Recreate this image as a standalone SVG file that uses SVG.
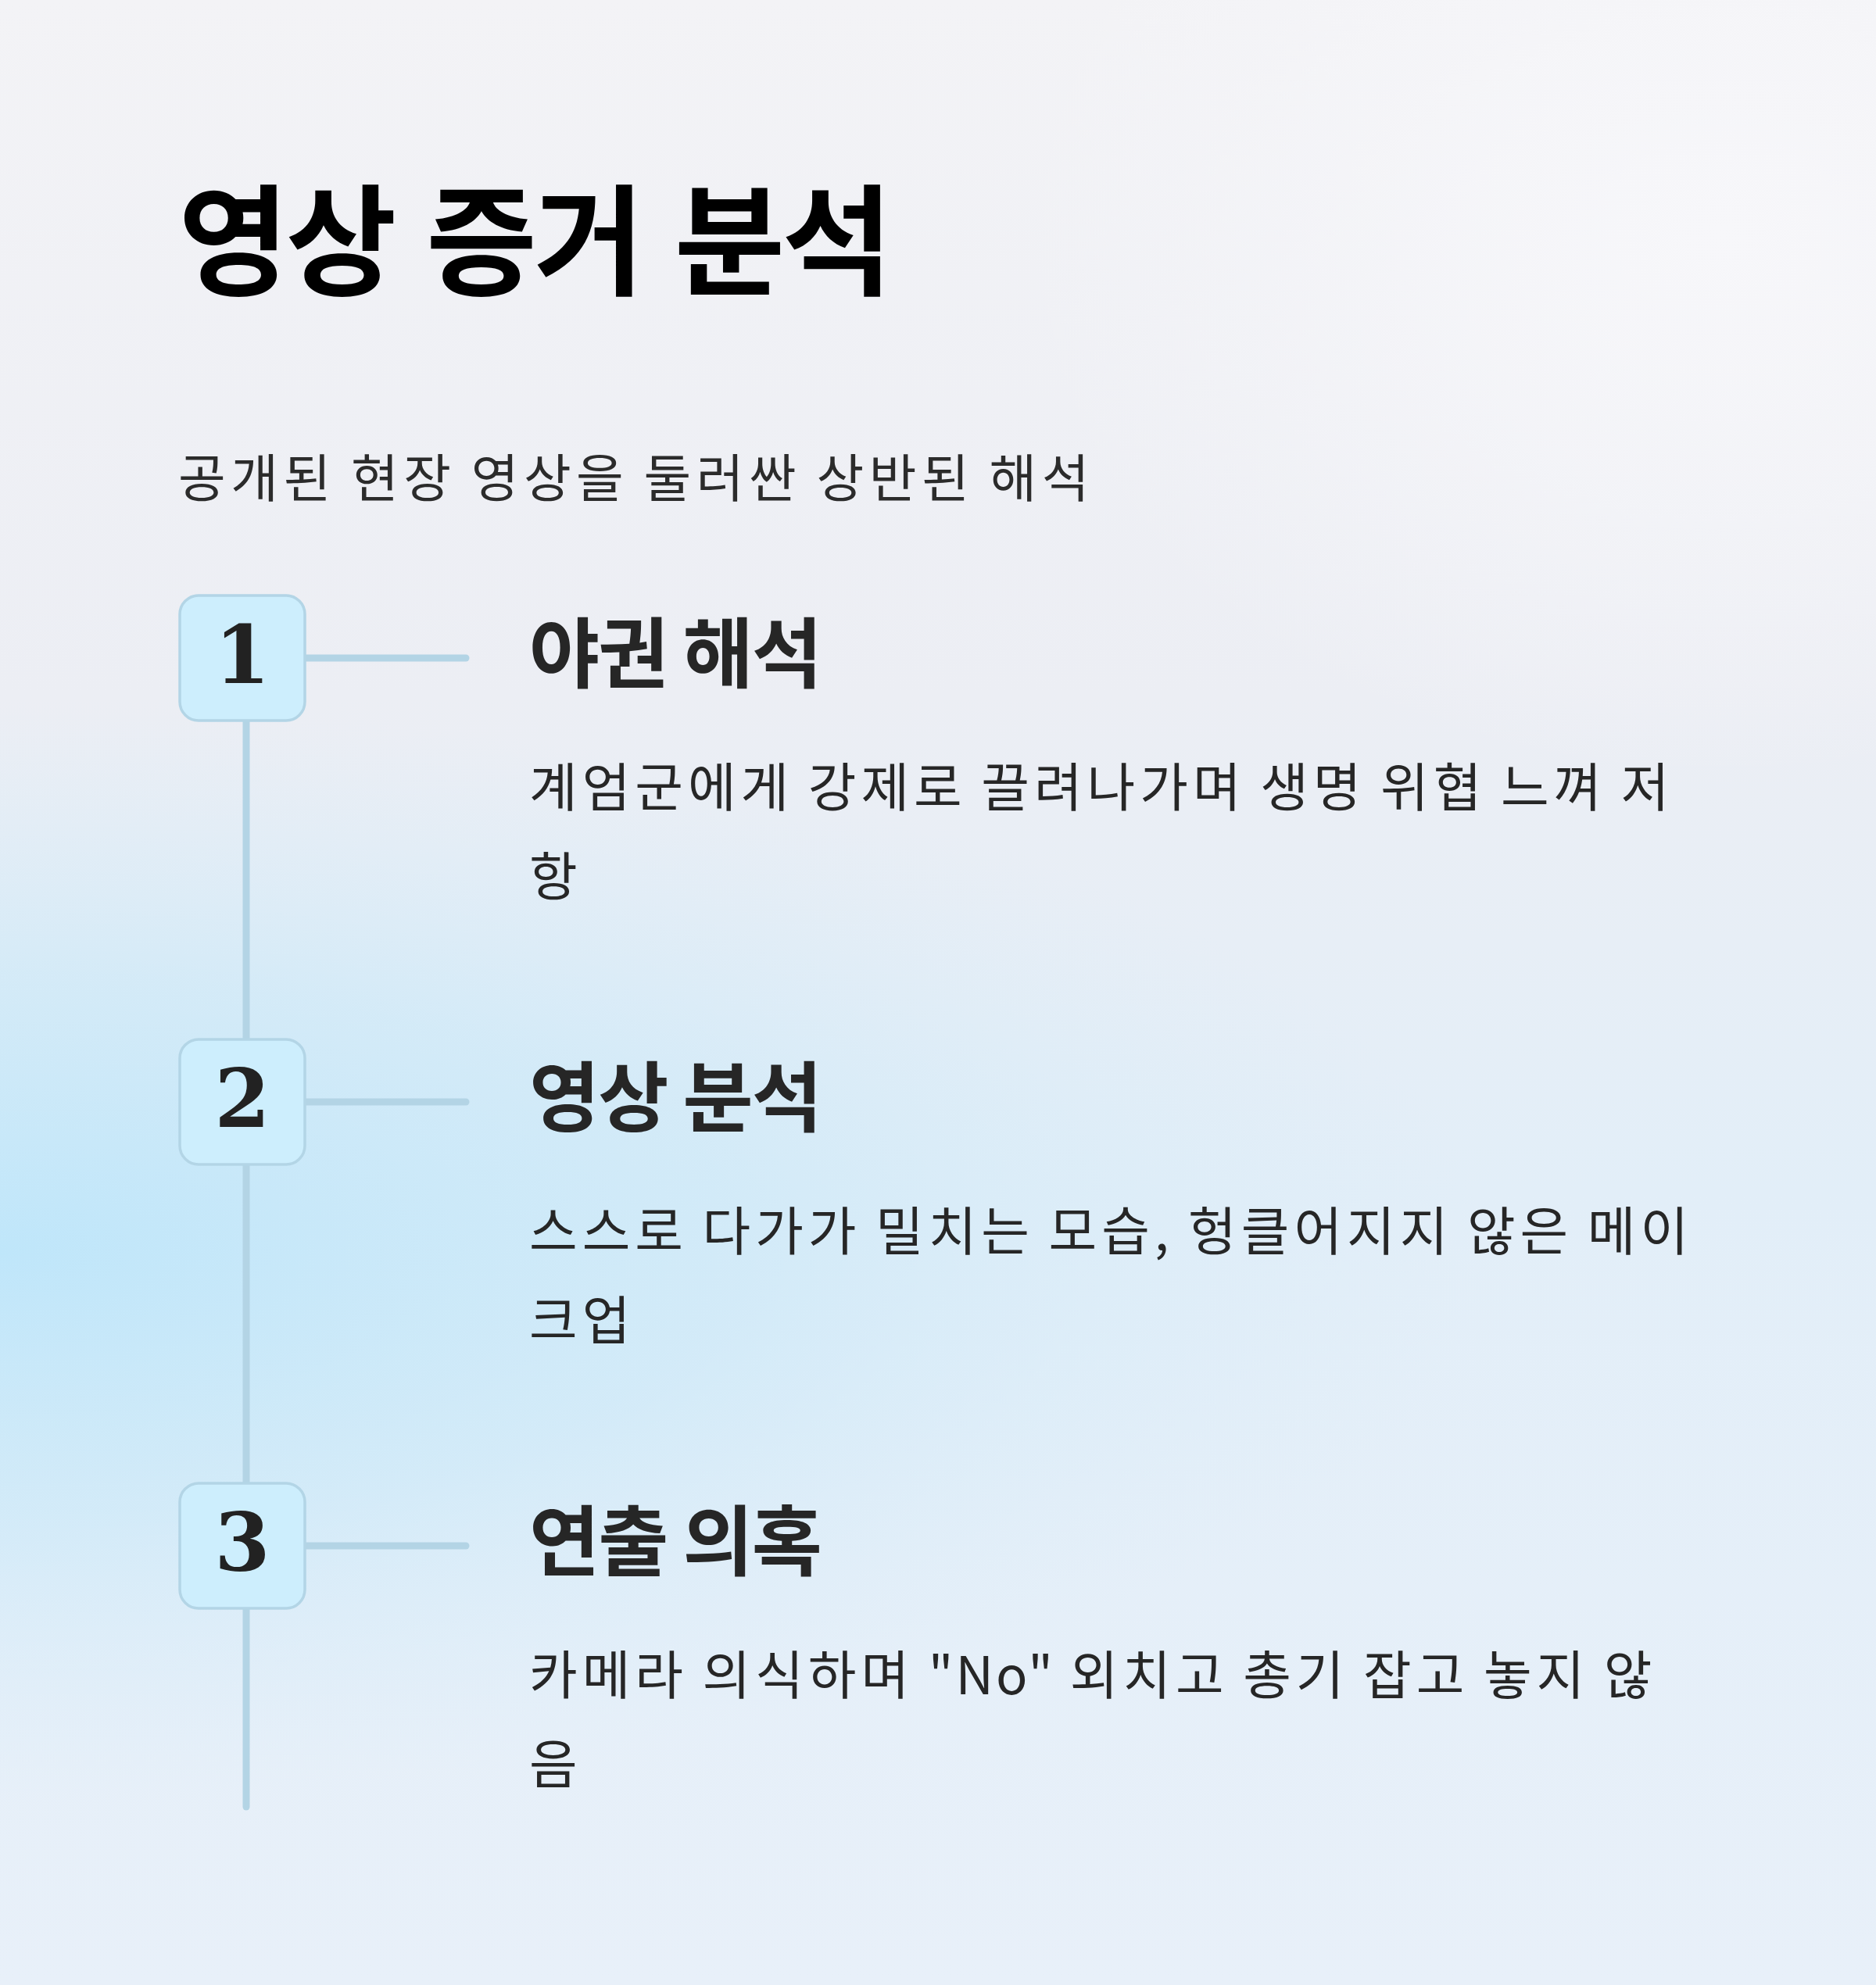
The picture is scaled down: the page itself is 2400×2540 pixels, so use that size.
<svg xmlns="http://www.w3.org/2000/svg" width="2400" height="2540" viewBox="0 0 2400 2540">
<defs>
<linearGradient id="bg" x1="0" y1="0" x2="0" y2="1">
<stop offset="0" stop-color="#f3f3f6"/>
<stop offset="0.35" stop-color="#eceef4"/>
<stop offset="0.6" stop-color="#e2eef8"/>
<stop offset="1" stop-color="#e8f0f9"/>
</linearGradient>
<radialGradient id="glow" cx="0" cy="1600" r="1" gradientUnits="userSpaceOnUse" gradientTransform="translate(0 1600) scale(1900 700) translate(0 -1600)">
<stop offset="0" stop-color="#bfe6fa" stop-opacity="1"/>
<stop offset="0.5" stop-color="#c8e8f8" stop-opacity="0.6"/>
<stop offset="1" stop-color="#d8ecf8" stop-opacity="0"/>
</radialGradient>
<radialGradient id="hi" cx="2200" cy="300" r="1" gradientUnits="userSpaceOnUse" gradientTransform="translate(2200 300) scale(900 700) translate(-2200 -300)">
<stop offset="0" stop-color="#f7f7fa" stop-opacity="1"/>
<stop offset="1" stop-color="#f7f7fa" stop-opacity="0"/>
</radialGradient>
<style>
.title{font-family:"Noto Sans CJK KR","Noto Sans",sans-serif;font-weight:700;font-size:154px;fill:#000;letter-spacing:-4px;word-spacing:11px}
.sub{font-family:"Noto Sans CJK KR","Noto Sans",sans-serif;font-weight:400;font-size:66px;fill:#2b2b2b;letter-spacing:6.5px;word-spacing:-2px}
.head{font-family:"Noto Sans CJK KR","Noto Sans",sans-serif;font-weight:700;font-size:98px;fill:#262626;letter-spacing:-2px}
.body{font-family:"Noto Sans CJK KR","Noto Sans",sans-serif;font-weight:400;font-size:67px;fill:#262626;letter-spacing:6px;word-spacing:-2.4px}
.lat{letter-spacing:3px}
.num{font-family:"DejaVu Serif",serif;font-weight:700;font-size:102px;fill:#222;text-anchor:middle}
.box{fill:#cdeefd;stroke:#b3d5e6;stroke-width:3.5}
.conn{stroke:#b3d4e5;stroke-width:9;stroke-linecap:round;fill:none}
</style>
</defs>
<rect x="0" y="0" width="2400" height="2540" fill="url(#bg)"/>
<rect x="0" y="0" width="2400" height="2540" fill="url(#glow)"/>
<rect x="0" y="0" width="2400" height="2540" fill="url(#hi)"/>
<g id="title">
<text class="title" x="228" y="366">영상 증거 분석</text>
<text class="sub" x="228" y="636">공개된 현장 영상을 둘러싼 상반된 해석</text>
</g>
<g id="connectors">
<line class="conn" x1="315" y1="922" x2="315" y2="1330"/>
<line class="conn" x1="315" y1="1490" x2="315" y2="1898"/>
<line class="conn" x1="315" y1="2058" x2="315" y2="2312"/>
<line class="conn" x1="392" y1="842" x2="596" y2="842"/>
<line class="conn" x1="392" y1="1410" x2="596" y2="1410"/>
<line class="conn" x1="392" y1="1978" x2="596" y2="1978"/>
</g>
<g id="step1">
<rect class="box" x="230" y="762" width="160" height="160" rx="24"/>
<text class="num" x="310" y="874">1</text>
<text class="head" x="677" y="872">야권 해석</text>
<text class="body" x="677" y="1032">계엄군에게 강제로 끌려나가며 생명 위협 느껴 저</text>
<text class="body" x="677" y="1146">항</text>
</g>
<g id="step2">
<rect class="box" x="230" y="1330" width="160" height="160" rx="24"/>
<text class="num" x="310" y="1442">2</text>
<text class="head" x="677" y="1440">영상 분석</text>
<text class="body" x="677" y="1600">스스로 다가가 밀치는 모습, 헝클어지지 않은 메이</text>
<text class="body" x="677" y="1714">크업</text>
</g>
<g id="step3">
<rect class="box" x="230" y="1898" width="160" height="160" rx="24"/>
<text class="num" x="310" y="2010">3</text>
<text class="head" x="677" y="2008">연출 의혹</text>
<text class="body" x="677" y="2168">카메라 의식하며 <tspan class="lat">"No"</tspan> 외치고 총기 잡고 놓지 않</text>
<text class="body" x="677" y="2282">음</text>
</g>
</svg>
